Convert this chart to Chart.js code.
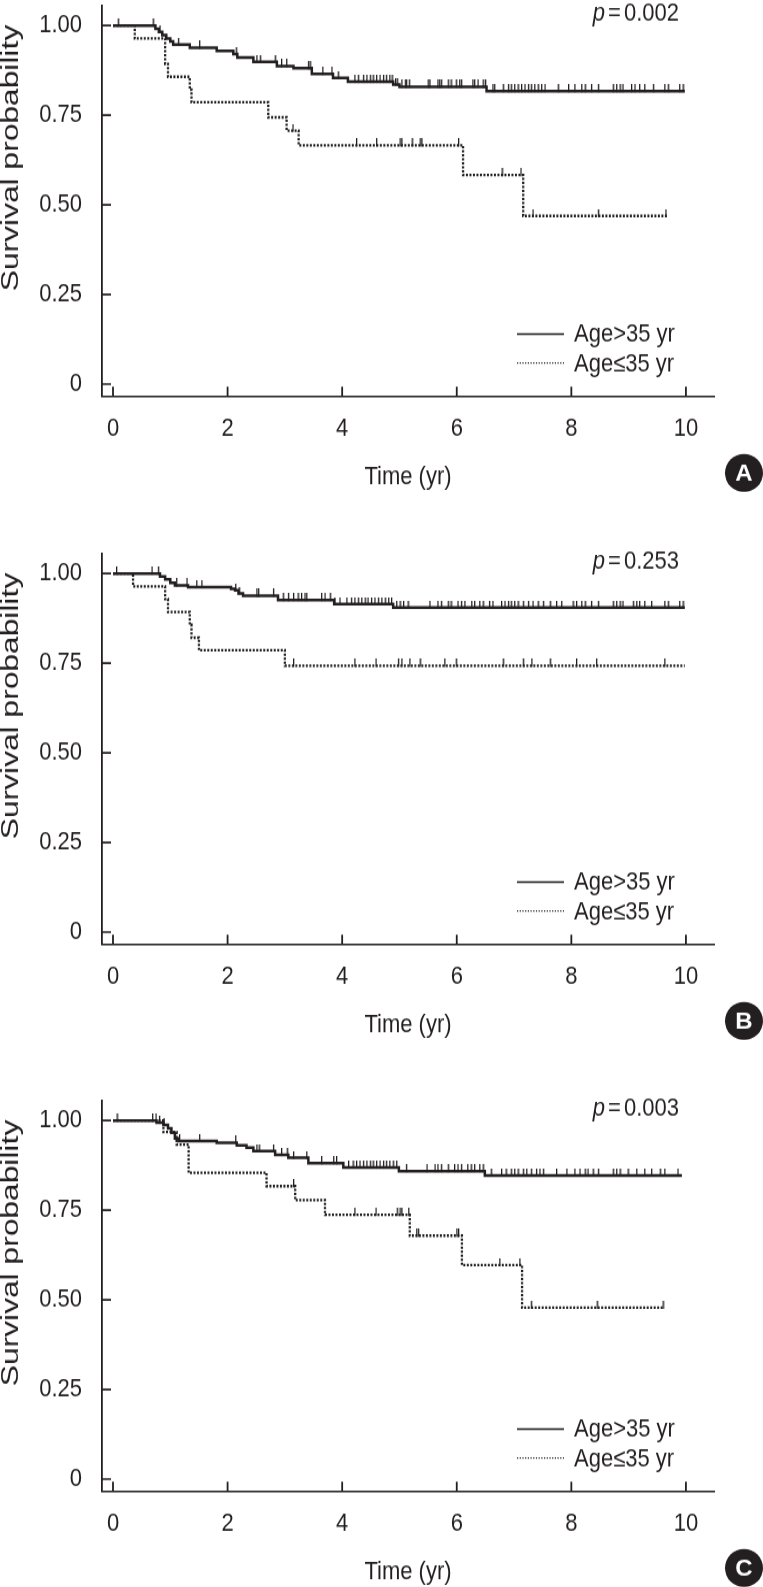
<!DOCTYPE html>
<html>
<head>
<meta charset="utf-8">
<script src="https://cdn.jsdelivr.net/npm/chart.js@4.4.1/dist/chart.umd.min.js"></script>
<style>
  html, body { margin: 0; padding: 0; background: #ffffff; }
  #wrap { position: relative; width: 763px; height: 1587px; overflow: hidden; }
  .panel { position: absolute; left: 0; width: 763px; height: 428px; transform: scaleY(1.15); transform-origin: 0 0; }
  .panel canvas { display: block; }
</style>
</head>
<body>
<div id="wrap">
  <div class="panel" style="top:0px"><canvas id="panelA" width="763" height="428"></canvas></div>
  <div class="panel" style="top:548px"><canvas id="panelB" width="763" height="428"></canvas></div>
  <div class="panel" style="top:1095px"><canvas id="panelC" width="763" height="428"></canvas></div>
</div>
<script>
// ---------------- data ----------------
const timeTicks = [0, 2, 4, 6, 8, 10];
const survTicks = [0, 0.25, 0.5, 0.75, 1.0];
const survTickLabels = ['0', '0.25', '0.50', '0.75', '1.00'];
const seriesLabels = ['Age>35 yr', 'Age\u226435 yr'];
const xTitle = 'Time (yr)';
const yTitle = 'Survival probability';
const panelLetters = ['A', 'B', 'C'];
const pValues = ['0.002', '0.253', '0.003'];

// Panel A
const aOlderTime = [0, 0.74, 0.80, 0.86, 0.93, 1.00, 1.05, 1.34, 1.81, 2.10, 2.17, 2.45, 2.86, 3.15, 3.47, 3.84, 4.10, 4.89, 5.00, 6.52, 9.98];
const aOlderSurv = [1, 0.991, 0.982, 0.973, 0.964, 0.956, 0.947, 0.938, 0.929, 0.920, 0.911, 0.899, 0.887, 0.881, 0.865, 0.854, 0.843, 0.835, 0.829, 0.817, 0.817];
const aOlderCensor = [0.09, 0.70, 0.82, 1.14, 1.51, 2.15, 2.51, 2.57, 2.83, 2.94, 3.03, 3.41, 3.44, 3.66, 3.82, 3.93, 4.22, 4.28, 4.37, 4.43, 4.49, 4.54, 4.60, 4.66, 4.72, 4.77, 4.83, 4.87, 4.93, 4.96, 5.04, 5.10, 5.12, 5.17, 5.50, 5.53, 5.67, 5.70, 5.73, 5.85, 5.90, 5.99, 6.05, 6.08, 6.28, 6.31, 6.37, 6.46, 6.50, 6.63, 6.66, 6.81, 6.90, 6.95, 7.01, 7.07, 7.13, 7.19, 7.25, 7.30, 7.36, 7.42, 7.48, 7.54, 7.77, 7.95, 8.06, 8.18, 8.24, 8.35, 8.47, 8.73, 8.79, 8.85, 8.90, 9.05, 9.11, 9.19, 9.28, 9.43, 9.63, 9.69, 9.89, 9.95];
const aYoungerTime = [0, 0.38, 0.91, 0.96, 1.34, 1.37, 2.71, 3.03, 3.24, 6.11, 7.16, 9.67];
const aYoungerSurv = [1, 0.964, 0.893, 0.857, 0.821, 0.786, 0.744, 0.707, 0.666, 0.583, 0.469, 0.469];
const aYoungerCensor = [3.14, 4.25, 4.60, 5.01, 5.04, 5.22, 5.36, 5.39, 6.03, 6.79, 7.12, 7.33, 8.47, 9.65];

// Panel B
const bOlderTime = [0, 0.82, 0.91, 1.00, 1.08, 1.31, 2.06, 2.13, 2.19, 2.27, 2.88, 3.86, 4.89, 9.98];
const bOlderSurv = [1, 0.992, 0.984, 0.974, 0.967, 0.962, 0.957, 0.953, 0.944, 0.938, 0.926, 0.915, 0.905, 0.905];
const bOlderCensor = [0.06, 0.68, 0.79, 1.11, 1.29, 1.46, 1.55, 2.14, 2.20, 2.51, 2.54, 2.80, 2.97, 3.06, 3.15, 3.23, 3.29, 3.35, 3.38, 3.64, 3.70, 3.79, 3.87, 3.96, 4.08, 4.16, 4.22, 4.28, 4.34, 4.40, 4.45, 4.51, 4.57, 4.63, 4.69, 4.75, 4.81, 4.86, 4.95, 5.01, 5.07, 5.15, 5.53, 5.67, 5.73, 5.85, 5.90, 6.02, 6.08, 6.14, 6.26, 6.31, 6.40, 6.46, 6.57, 6.63, 6.78, 6.84, 6.90, 6.95, 7.01, 7.07, 7.16, 7.25, 7.33, 7.42, 7.51, 7.63, 7.74, 7.83, 8.03, 8.09, 8.18, 8.24, 8.35, 8.47, 8.73, 8.79, 8.85, 8.90, 9.08, 9.14, 9.19, 9.28, 9.40, 9.63, 9.69, 9.89, 9.95];
const bYoungerTime = [0, 0.35, 0.91, 0.96, 1.34, 1.37, 1.50, 3.00, 9.98];
const bYoungerSurv = [1, 0.964, 0.929, 0.893, 0.857, 0.821, 0.786, 0.743, 0.743];
const bYoungerCensor = [3.15, 4.22, 4.59, 4.98, 5.04, 5.18, 5.36, 5.79, 5.99, 6.81, 7.16, 7.31, 7.63, 8.09, 8.44, 9.63];

// Panel C
const cOlderTime = [0, 0.76, 0.88, 0.96, 1.02, 1.08, 1.14, 1.81, 2.16, 2.33, 2.45, 2.83, 3.06, 3.41, 4.02, 4.99, 6.49, 9.93];
const cOlderSurv = [1, 0.994, 0.988, 0.978, 0.966, 0.950, 0.943, 0.938, 0.931, 0.924, 0.915, 0.904, 0.896, 0.881, 0.869, 0.859, 0.847, 0.847];
const cOlderCensor = [0.07, 0.69, 0.75, 0.81, 0.89, 1.16, 1.51, 2.14, 2.51, 2.55, 2.80, 2.94, 3.04, 3.15, 3.38, 3.64, 3.85, 3.90, 4.11, 4.19, 4.25, 4.31, 4.37, 4.43, 4.49, 4.54, 4.60, 4.66, 4.72, 4.77, 4.83, 4.89, 4.95, 5.12, 5.48, 5.62, 5.67, 5.73, 5.85, 5.96, 6.02, 6.08, 6.19, 6.25, 6.31, 6.40, 6.46, 6.60, 6.78, 6.86, 6.95, 7.01, 7.07, 7.16, 7.22, 7.30, 7.39, 7.45, 7.51, 7.74, 7.92, 8.06, 8.15, 8.24, 8.29, 8.38, 8.47, 8.73, 8.79, 8.85, 8.99, 9.14, 9.28, 9.40, 9.55, 9.63, 9.86];
const cYoungerTime = [0, 0.88, 1.11, 1.32, 2.68, 3.18, 3.70, 5.18, 6.09, 7.14, 9.62];
const cYoungerSurv = [1, 0.968, 0.933, 0.854, 0.817, 0.778, 0.737, 0.679, 0.597, 0.478, 0.478];
const cYoungerCensor = [3.15, 4.22, 4.59, 4.96, 5.01, 5.04, 5.16, 5.30, 5.33, 6.00, 6.03, 6.75, 7.10, 7.30, 8.45, 9.60];

// ---------------- styling / helpers ----------------
const INK = '#231f20';
const FONT = '"Liberation Sans", Arial, Helvetica, sans-serif';
const STRETCH = 1.15; // vertical stretch of the panels (matches the reference's tall lettering)
Chart.defaults.font.family = FONT;
Chart.defaults.font.size = 22;
Chart.defaults.color = INK;

function stepPoints(times, surv) {
  return times.map((t, i) => ({ x: t, y: surv[i] }));
}
function survivalAt(times, surv, t) {
  let v = surv[0];
  for (let i = 0; i < times.length; i++) { if (times[i] <= t) v = surv[i]; }
  return v;
}
function censorPoints(censor, times, surv) {
  return censor.map(t => ({ x: t, y: survivalAt(times, surv, t) }));
}
function makeCensorMark(h) {
  const c = document.createElement('canvas');
  c.width = 3; c.height = 2 * h;
  const g = c.getContext('2d');
  g.fillStyle = INK;
  g.fillRect(1, 0, 1.3, h + 1);
  return c;
}
const censorMark = makeCensorMark(6);

const decorPlugin = {
  id: 'kmDecor',
  afterDraw(chart, args, opts) {
    const ctx = chart.ctx;
    const xs = chart.scales.x, ys = chart.scales.y;
    const area = chart.chartArea;
    ctx.save();
    // inward tick marks
    ctx.strokeStyle = INK;
    ctx.lineWidth = 1.6;
    ctx.beginPath();
    survTicks.forEach(v => {
      const py = ys.getPixelForValue(v);
      ctx.moveTo(area.left, py); ctx.lineTo(area.left + 9, py);
    });
    ctx.stroke();
    ctx.lineWidth = 1.8;
    ctx.beginPath();
    timeTicks.forEach(v => {
      const px = xs.getPixelForValue(v);
      ctx.moveTo(px, area.bottom); ctx.lineTo(px, area.bottom - 8);
    });
    ctx.stroke();

    // y title (rotated)
    ctx.fillStyle = INK;
    ctx.save();
    ctx.translate(12, 158 / STRETCH);
    ctx.rotate(-Math.PI / 2);
    ctx.scale(1.2, 1);
    ctx.font = '23px ' + FONT;
    ctx.textAlign = 'center'; ctx.textBaseline = 'middle';
    ctx.fillText(yTitle, 0, 0);
    ctx.restore();

    // x title
    ctx.font = '22px ' + FONT;
    ctx.textAlign = 'center'; ctx.textBaseline = 'middle';
    ctx.fillText(xTitle, 408, 477 / STRETCH);

    // legend
    const ds = chart.data.datasets;
    const rows = [334 / STRETCH, 363 / STRETCH];
    [0, 1].forEach(i => {
      const y = rows[i];
      ctx.save();
      ctx.strokeStyle = INK;
      if (i === 0) { ctx.lineWidth = 1.4; ctx.setLineDash([]); }
      else { ctx.lineWidth = 1.1; ctx.setLineDash([1.2, 1.5]); }
      ctx.beginPath(); ctx.moveTo(517, y); ctx.lineTo(564, y); ctx.stroke();
      ctx.restore();
      ctx.font = '22px ' + FONT;
      ctx.textAlign = 'left'; ctx.textBaseline = 'middle';
      ctx.fillText(ds[i].label, 574, y + 1);
    });

    // p value
    const pieces = [
      { t: 'p', f: 'italic 22px ' + FONT, gap: 3 },
      { t: '=', f: '22px ' + FONT, gap: 3 },
      { t: opts.pValue, f: '22px ' + FONT, gap: 0 }
    ];
    let total = 0;
    pieces.forEach(p => { ctx.font = p.f; p.w = ctx.measureText(p.t).width; total += p.w + p.gap; });
    let x = 679 - total;
    ctx.textAlign = 'left'; ctx.textBaseline = 'middle';
    pieces.forEach(p => { ctx.font = p.f; ctx.fillText(p.t, x, 14 / STRETCH); x += p.w + p.gap; });

    // panel badge (kept round despite the stretch)
    ctx.save();
    ctx.translate(744, 473 / STRETCH);
    ctx.scale(1, 1 / STRETCH);
    ctx.beginPath();
    ctx.arc(0, 0, 19, 0, Math.PI * 2);
    ctx.fillStyle = INK; ctx.fill();
    ctx.fillStyle = '#ffffff';
    ctx.font = 'bold 24px ' + FONT;
    ctx.textAlign = 'center'; ctx.textBaseline = 'middle';
    ctx.fillText(opts.letter, 0, 1);
    ctx.restore();
    ctx.restore();
  }
};

function makePanel(id, letter, pValue, oT, oS, oC, yT, yS, yC) {
  return new Chart(document.getElementById(id), {
    type: 'line',
    data: {
      datasets: [
        { label: seriesLabels[0], data: stepPoints(oT, oS), stepped: 'before', borderColor: INK, borderWidth: 2.5, pointRadius: 0, fill: false, order: 3 },
        { label: seriesLabels[1], data: stepPoints(yT, yS), stepped: 'before', borderColor: INK, borderWidth: 2.3, borderDash: [2, 1.5], pointRadius: 0, fill: false, order: 4 },
        { label: seriesLabels[0] + ' censored', data: censorPoints(oC, oT, oS), showLine: false, pointStyle: censorMark, pointRadius: 4, order: 1 },
        { label: seriesLabels[1] + ' censored', data: censorPoints(yC, yT, yS), showLine: false, pointStyle: censorMark, pointRadius: 4, order: 2 }
      ]
    },
    options: {
      responsive: false,
      animation: false,
      devicePixelRatio: 1,
      layout: { padding: { left: 0, top: 0, right: 49, bottom: 0 } },
      plugins: {
        legend: { display: false },
        tooltip: { enabled: false },
        kmDecor: { letter: letter, pValue: pValue }
      },
      scales: {
        x: {
          type: 'linear', min: -0.192, max: 10.49,
          grid: { display: false, drawTicks: false },
          border: { display: true, color: INK, width: 1.6 },
          ticks: { padding: 15.5, color: INK, font: { size: 22 }, autoSkip: false, maxRotation: 0, callback: (v) => String(v) },
          afterBuildTicks: (s) => { s.ticks = timeTicks.map(v => ({ value: v })); },
          afterFit: (s) => { s.height = 428 - 396 / STRETCH; s.paddingLeft = 0; s.paddingRight = 0; }
        },
        y: {
          type: 'linear', min: -0.033, max: 1.055,
          grid: { display: false, drawTicks: false },
          border: { display: true, color: INK, width: 1.8 },
          ticks: { padding: 20, color: INK, font: { size: 22 }, autoSkip: false, callback: (v, i) => survTickLabels[i] },
          afterBuildTicks: (s) => { s.ticks = survTicks.map(v => ({ value: v })); },
          afterFit: (s) => { s.width = 102; s.paddingTop = 0; s.paddingBottom = 0; }
        }
      }
    },
    plugins: [decorPlugin]
  });
}

makePanel('panelA', panelLetters[0], pValues[0], aOlderTime, aOlderSurv, aOlderCensor, aYoungerTime, aYoungerSurv, aYoungerCensor);
makePanel('panelB', panelLetters[1], pValues[1], bOlderTime, bOlderSurv, bOlderCensor, bYoungerTime, bYoungerSurv, bYoungerCensor);
makePanel('panelC', panelLetters[2], pValues[2], cOlderTime, cOlderSurv, cOlderCensor, cYoungerTime, cYoungerSurv, cYoungerCensor);
</script>
</body>
</html>
